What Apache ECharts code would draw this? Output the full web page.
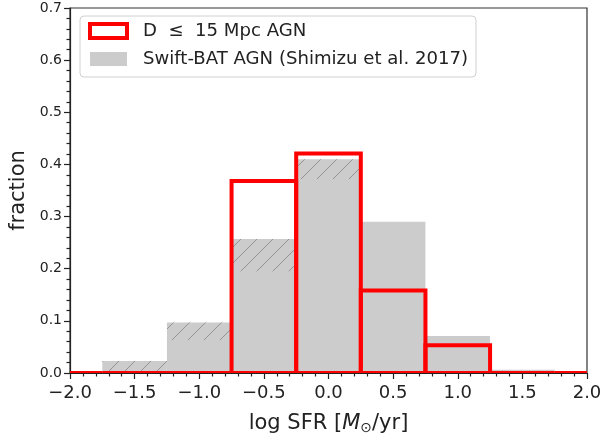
<!DOCTYPE html>
<html>
<head>
<meta charset="utf-8">
<script src="https://cdn.jsdelivr.net/npm/echarts@6/dist/echarts.min.js"></script>
<style>html,body{margin:0;padding:0;background:#fff}#c{width:605px;height:439px}</style>
</head>
<body>
<div id="c"></div>
<script>
// Data
const binWidth = 0.5;
const redCenters = [-2.0, -1.5, -1.0, -0.5, 0.0, 0.5, 1.0, 1.5, 2.0];
const redValues  = [0, 0, 0, 0.368, 0.421, 0.158, 0.053, 0, 0];
const greyCenters = [-1.5, -1.0, -0.5, 0.0, 0.5, 1.0, 1.5];
const greyValues  = [0.023, 0.097, 0.257, 0.410, 0.290, 0.071, 0.006];
const hatchLower  = [0.0, 0.063, 0.195, 0.372, null, null, null];
const xTicks = [-2.0, -1.5, -1.0, -0.5, 0.0, 0.5, 1.0, 1.5, 2.0];
const yTicks = [0.0, 0.1, 0.2, 0.3, 0.4, 0.5, 0.6, 0.7];
const redName = 'D  \u2264  15 Mpc AGN';
const greyName = 'Swift-BAT AGN (Shimizu et al. 2017)';

const FONT = 'DejaVu Sans';
const chart = echarts.init(document.getElementById('c'), null, {renderer: 'canvas'});

const greyData = greyCenters.map((c, i) => [c - binWidth/2, c + binWidth/2, greyValues[i]]);
const hatchData = greyCenters.map((c, i) => [c - binWidth/2, c + binWidth/2, hatchLower[i], greyValues[i]])
  .filter(d => d[2] !== null);
const redData = redCenters.map((c, i) => [c - binWidth/2, c + binWidth/2, redValues[i]]);

function fmt(v) { return (v < 0 ? '\u2212' : '') + Math.abs(v).toFixed(1); }

function rectItem(params, api, fillStyle) {
  const p0 = api.coord([api.value(0), 0]);
  const p1 = api.coord([api.value(1), api.value(2)]);
  return {
    type: 'rect',
    shape: {x: p0[0], y: p1[1], width: p1[0] - p0[0], height: p0[1] - p1[1]},
    style: fillStyle
  };
}

const option = {
  animation: false,
  backgroundColor: '#fff',
  grid: {left: 70, right: 18, top: 8, bottom: 66, containLabel: false, outerBoundsMode: 'none',
    show: true, borderColor: '#333', borderWidth: 1.2, backgroundColor: 'transparent'},
  legend: {
    orient: 'vertical', left: 80, top: 16,
    padding: [6, 8, 9, 8],
    backgroundColor: '#fff', borderColor: '#d0d0d0', borderWidth: 1, borderRadius: 4,
    itemWidth: 37, itemHeight: 14, itemGap: 10,
    textStyle: {fontFamily: FONT, fontSize: 18.1, color: '#222', padding: [0, 0, 0, 11], lineHeight: 18},
    data: [
      {name: redName, icon: 'rect', itemStyle: {color: '#fff', borderColor: '#ff0000', borderWidth: 4}},
      {name: greyName, icon: 'rect', itemStyle: {color: '#cccccc', borderWidth: 0}}
    ]
  },
  xAxis: {
    type: 'value', min: xTicks[0], max: xTicks[xTicks.length-1], interval: 0.5,
    name: '{a|log SFR [}{i|M}{s|\u2299}{a|/yr]}', nameLocation: 'middle', nameGap: 40,
    nameTextStyle: {rich: {
      a: {fontFamily: FONT, fontSize: 21, color: '#222'},
      i: {fontFamily: FONT, fontSize: 21, fontStyle: 'italic', color: '#222'},
      s: {fontFamily: FONT, fontSize: 14, color: '#222', verticalAlign: 'bottom', padding: [8, 0, 0, 0]}
    }},
    axisLine: {onZero: false, lineStyle: {color: '#222', width: 1.2}},
    axisTick: {show: true, inside: false, length: 6, lineStyle: {color: '#222', width: 1.2}},
    minorTick: {show: true, splitNumber: 5, length: 3.5, lineStyle: {color: '#222', width: 1.2}},
    splitLine: {show: false},
    axisLabel: {fontFamily: FONT, fontSize: 18, color: '#222', margin: 11, formatter: fmt}
  },
  yAxis: {
    type: 'value', min: yTicks[0], max: yTicks[yTicks.length-1], interval: 0.1,
    name: 'fraction', nameLocation: 'middle', nameGap: 41,
    nameTextStyle: {fontFamily: FONT, fontSize: 21, color: '#222'},
    axisLine: {show: true, onZero: false, lineStyle: {color: '#222', width: 1.2}},
    axisTick: {show: true, inside: false, length: 6, lineStyle: {color: '#222', width: 1.2}},
    minorTick: {show: true, splitNumber: 5, length: 3.5, lineStyle: {color: '#222', width: 1.2}},
    splitLine: {show: false},
    axisLabel: {fontFamily: FONT, fontSize: 14, color: '#222', margin: 8, formatter: v => v.toFixed(1)}
  },
  series: [
    {
      name: greyName, type: 'custom', data: greyData, clip: true, z: 1,
      itemStyle: {color: '#cccccc'},
      encode: {x: [0, 1], y: 2},
      renderItem: (params, api) => rectItem(params, api, {fill: '#cccccc'})
    },
    {
      name: 'hatch', type: 'custom', data: hatchData, clip: true, z: 2,
      encode: {x: [0, 1], y: [2, 3]},
      renderItem: (params, api) => {
        const a = api.coord([api.value(0), api.value(3)]);
        const b = api.coord([api.value(1), api.value(2)]);
        const x0 = a[0], y0 = a[1], x1 = b[0], y1 = b[1];
        const sp = 16;
        const children = [];
        const cStart = Math.ceil((x0 + y0) / sp) * sp;
        for (let c = cStart; c <= x1 + y1; c += sp) {
          const xa = Math.max(x0, c - y1), xb = Math.min(x1, c - y0);
          if (xb - xa < 0.5) continue;
          children.push({type: 'line', shape: {x1: xa, y1: c - xa, x2: xb, y2: c - xb},
            style: {stroke: 'rgba(100,100,100,0.55)', lineWidth: 1}});
        }
        return {type: 'group', children: children};
      }
    },
    {
      name: redName, type: 'custom', data: redData, clip: true, z: 3,
      itemStyle: {color: '#ff0000'},
      encode: {x: [0, 1], y: 2},
      renderItem: (params, api) => rectItem(params, api, {fill: 'none', stroke: '#ff0000', lineWidth: 4, lineJoin: 'miter'})
    }
  ]
};
chart.setOption(option);
</script>
</body>
</html>
